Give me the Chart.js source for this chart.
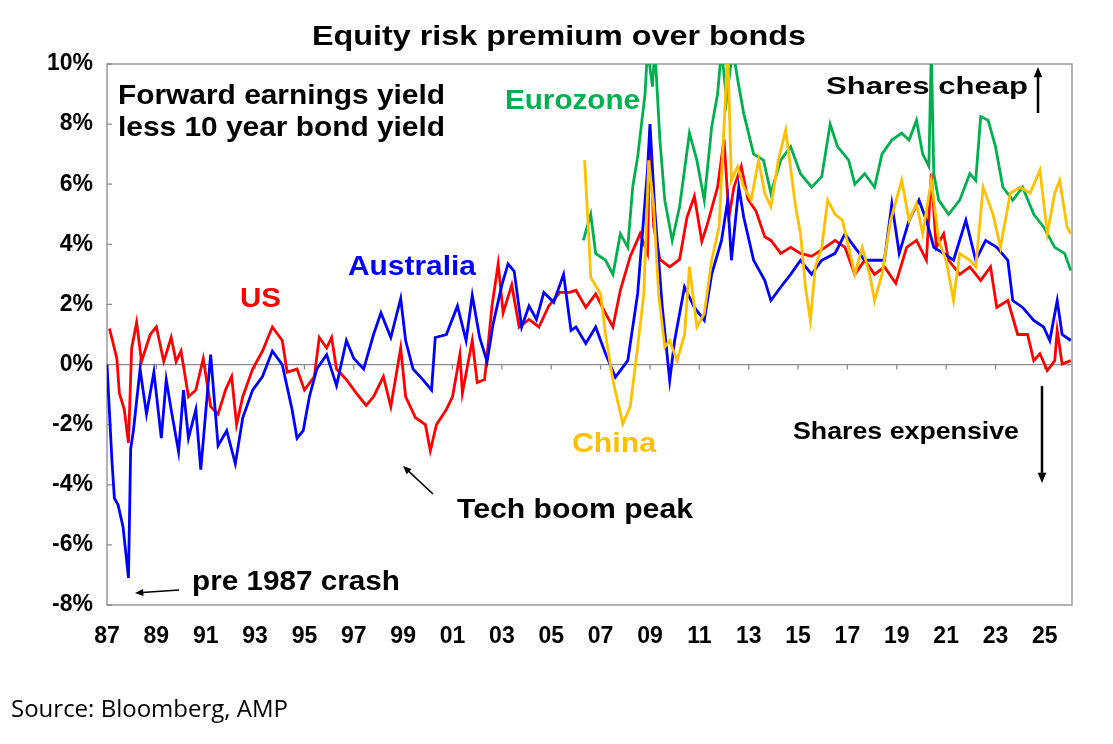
<!DOCTYPE html>
<html>
<head>
<meta charset="utf-8">
<script src="https://cdn.jsdelivr.net/npm/chart.js@4.4.1/dist/chart.umd.min.js"></script>
<style>
  html, body { margin: 0; padding: 0; background: #fff; }
  canvas { display: block; }
</style>
</head>
<body>
<canvas id="erp" width="1113" height="744"></canvas>
<script>
// values, % (forward earnings yield less 10y bond yield)
const usYears = [1987.1,1987.4,1987.5,1987.7,1987.87,1988.0,1988.2,1988.4,1988.75,1989.0,1989.3,1989.6,1989.8,1990.0,1990.3,1990.6,1990.9,1991.2,1991.5,1991.8,1992.05,1992.25,1992.5,1992.9,1993.3,1993.7,1994.1,1994.3,1994.7,1995.0,1995.4,1995.6,1995.9,1996.1,1996.3,1996.7,1997.1,1997.5,1997.8,1998.2,1998.5,1998.9,1999.1,1999.5,1999.9,2000.1,2000.35,2000.75,2001.0,2001.3,2001.4,2001.8,2002.0,2002.3,2002.6,2002.85,2003.05,2003.4,2003.7,2004.1,2004.5,2004.9,2005.35,2005.75,2006.0,2006.4,2006.8,2007.2,2007.5,2007.8,2008.2,2008.6,2008.9,2009.0,2009.15,2009.4,2009.8,2010.2,2010.5,2010.8,2011.1,2011.3,2011.74,2012.0,2012.2,2012.4,2012.7,2012.97,2013.3,2013.65,2013.9,2014.3,2014.7,2015.1,2015.55,2016.1,2016.5,2016.9,2017.3,2017.7,2018.1,2018.5,2018.96,2019.4,2019.8,2020.2,2020.4,2020.6,2020.9,2021.1,2021.55,2021.96,2022.4,2022.8,2023.05,2023.5,2023.9,2024.3,2024.55,2024.8,2025.1,2025.4,2025.5,2025.7,2026.05];
const usValues = [1.2,0.2,-0.95,-1.5,-2.6,0.55,1.4,0.1,1.0,1.25,0.1,0.9,0.1,0.45,-1.07,-0.85,0.2,-1.4,-1.65,-0.85,-0.4,-2.0,-1.07,-0.15,0.45,1.25,0.8,-0.25,-0.15,-0.85,-0.4,0.9,0.55,0.9,-0.15,-0.5,-0.95,-1.36,-1.07,-0.4,-1.4,0.55,-1.07,-1.77,-2.0,-2.87,-2.0,-1.5,-1.07,0.33,-0.95,0.8,-0.6,-0.5,1.95,3.35,1.72,2.65,1.25,1.5,1.25,1.95,2.4,2.4,2.47,1.9,2.35,1.7,1.25,2.47,3.6,4.35,3.7,7.8,4.6,3.5,3.25,3.5,4.9,5.6,4.1,4.6,5.9,7.5,4.9,5.9,6.6,5.5,5.1,4.25,4.13,3.7,3.9,3.7,3.6,3.9,4.13,3.9,3.0,3.47,3.0,3.25,2.7,3.9,4.13,3.47,6.35,3.9,4.35,3.47,3.0,3.25,2.8,3.25,1.9,2.13,1.0,1.0,0.13,0.36,-0.2,0.13,1.13,0.02,0.13];

const auYears = [1987.0,1987.2,1987.3,1987.45,1987.65,1987.87,1987.96,1988.07,1988.34,1988.6,1988.9,1989.2,1989.4,1989.6,1989.9,1990.1,1990.3,1990.6,1990.8,1991.2,1991.5,1991.85,1992.2,1992.5,1992.9,1993.3,1993.7,1994.1,1994.5,1994.7,1994.95,1995.2,1995.5,1995.9,1996.3,1996.7,1997.0,1997.4,1997.8,1998.1,1998.5,1998.9,1999.1,1999.4,1999.8,2000.15,2000.3,2000.75,2001.2,2001.55,2001.8,2002.1,2002.4,2002.65,2003.0,2003.25,2003.5,2003.8,2004.1,2004.4,2004.7,2005.1,2005.5,2005.8,2006.0,2006.4,2006.8,2007.2,2007.6,2008.1,2008.5,2008.9,2009.0,2009.2,2009.5,2009.8,2010.0,2010.4,2010.8,2011.2,2011.5,2011.9,2012.15,2012.3,2012.6,2012.8,2013.2,2013.65,2013.9,2014.3,2014.7,2015.1,2015.55,2015.96,2016.5,2016.9,2017.3,2017.7,2018.1,2018.5,2018.8,2019.1,2019.5,2019.9,2020.2,2020.5,2020.9,2021.3,2021.8,2022.2,2022.6,2023.05,2023.5,2023.7,2024.1,2024.55,2024.95,2025.2,2025.5,2025.7,2026.05];
const auValues = [0,-3.2,-4.45,-4.67,-5.4,-7.1,-2.8,-2.2,-0.15,-1.65,-0.25,-2.45,-0.5,-1.5,-2.9,-0.85,-2.45,-1.5,-3.5,0.33,-2.7,-2.2,-3.3,-1.77,-0.85,-0.4,0.45,0,-1.5,-2.45,-2.2,-1.07,-0.15,0.33,-0.7,0.8,0.2,-0.15,1.0,1.72,0.9,2.2,0.8,-0.15,-0.5,-0.85,0.9,1.0,1.95,0.8,2.3,0.9,0.1,1.37,2.65,3.35,3.1,1.25,1.95,1.5,2.4,2.07,3.0,1.14,1.25,0.7,1.25,0.36,-0.42,0.13,2.35,6.47,8.0,5.1,1.9,-0.53,0.8,2.58,1.9,1.47,3.0,4.13,5.47,3.47,5.9,4.9,3.47,2.8,2.13,2.58,3.0,3.47,3.0,3.47,3.7,4.35,3.9,3.47,3.47,3.47,5.35,3.7,4.8,5.47,4.8,3.9,3.7,3.47,4.8,3.47,4.13,3.9,3.47,2.13,1.9,1.47,1.25,0.8,2.13,1.0,0.8];

const ezYears = [2006.3,2006.6,2006.8,2007.2,2007.5,2007.8,2008.1,2008.3,2008.5,2008.8,2008.9,2009.1,2009.2,2009.4,2009.6,2009.9,2010.2,2010.6,2010.9,2011.2,2011.5,2011.74,2011.9,2012.1,2012.35,2012.55,2012.8,2013.2,2013.6,2013.9,2014.3,2014.7,2015.1,2015.55,2015.96,2016.3,2016.6,2017.05,2017.3,2017.7,2018.1,2018.4,2018.8,2019.2,2019.5,2019.8,2020.05,2020.3,2020.4,2020.5,2020.7,2021.1,2021.55,2021.96,2022.2,2022.4,2022.7,2023.0,2023.3,2023.7,2024.1,2024.55,2024.95,2025.4,2025.8,2026.05];
const ezValues = [4.13,5.0,3.7,3.47,3.0,4.35,3.9,5.9,6.9,9.0,10.5,9.25,10.5,7.5,5.47,4.13,5.25,7.7,6.8,5.47,7.9,9.0,10.5,8.8,10.5,9.5,8.35,7.0,6.8,5.7,6.8,7.25,6.35,5.9,6.25,8.0,7.25,6.8,6.0,6.35,5.9,7.0,7.47,7.7,7.47,8.13,7.0,6.6,10.5,6.35,5.47,5.0,5.47,6.35,6.13,8.25,8.13,7.25,5.9,5.47,5.9,5.0,4.58,3.9,3.7,3.13];

const cnYears = [2006.35,2006.5,2006.6,2007.0,2007.2,2007.5,2007.9,2008.2,2008.5,2008.75,2008.95,2009.15,2009.35,2009.6,2009.8,2010.1,2010.4,2010.6,2010.9,2011.2,2011.5,2011.8,2012.0,2012.15,2012.3,2012.55,2012.8,2013.1,2013.4,2013.65,2013.9,2014.2,2014.5,2014.9,2015.1,2015.3,2015.5,2015.7,2015.96,2016.2,2016.5,2016.8,2017.05,2017.3,2017.6,2017.9,2018.1,2018.4,2018.75,2019.2,2019.5,2019.8,2020.05,2020.4,2020.7,2021.0,2021.3,2021.55,2021.96,2022.2,2022.5,2022.9,2023.2,2023.6,2024.0,2024.4,2024.8,2025.1,2025.4,2025.6,2025.9,2026.05];
const cnValues = [6.8,4.58,2.9,2.35,1.0,-0.53,-1.97,-1.4,0.58,2.35,6.8,5.25,2.35,0.58,0.8,0.13,1.0,3.25,1.25,1.7,3.47,4.58,7.9,10.5,6.13,6.58,5.9,5.47,6.8,5.7,5.25,6.8,7.8,5.25,4.35,2.58,1.47,3.25,3.9,5.47,5.0,4.8,3.9,3.0,3.9,3.0,2.13,3.0,4.8,6.13,4.8,5.35,4.35,6.13,4.13,3.47,2.13,3.7,3.47,3.25,5.9,5.0,3.9,5.7,5.9,5.7,6.47,4.35,5.7,6.13,4.58,4.35];

const xTicks = [1987,1989,1991,1993,1995,1997,1999,2001,2003,2005,2007,2009,2011,2013,2015,2017,2019,2021,2023,2025];
const yTicks = [-8, -6, -4, -2, 0, 2, 4, 6, 8, 10];

const toPoints = (xs, ys) => xs.map((x, i) => ({ x: x, y: ys[i] }));
const FONT = '"Liberation Sans", Arial, sans-serif';

const line = (label, xs, ys, color) => ({
    label: label,
    data: toPoints(xs, ys),
    borderColor: color,
    borderWidth: 2.8,
    pointRadius: 0,
    tension: 0,
    fill: false
});

// frame, zero line, title and labels
const decor = {
    id: 'decor',
    beforeDatasetsDraw(chart) {
        const { ctx, chartArea: a, scales: { x, y } } = chart;
        ctx.save();
        ctx.strokeStyle = '#8c8c8c';
        ctx.lineWidth = 1.3;
        ctx.strokeRect(a.left, a.top, a.right - a.left, a.bottom - a.top);
        const y0 = y.getPixelForValue(0);
        ctx.beginPath();
        ctx.moveTo(a.left, y0); ctx.lineTo(a.right, y0);
        xTicks.forEach(v => {
            const px = x.getPixelForValue(v);
            ctx.moveTo(px, y0); ctx.lineTo(px, y0 + 5);
        });
        yTicks.forEach(v => {
            const py = y.getPixelForValue(v);
            ctx.moveTo(a.left, py); ctx.lineTo(a.left + 5, py);
        });
        ctx.stroke();
        ctx.restore();
    },
    afterDraw(chart) {
        const { ctx } = chart;
        ctx.save();
        // text fitted to the width it has in the reference
        const txt = (s, left, right, py, color, size) => {
            ctx.font = 'bold ' + size + 'px ' + FONT;
            ctx.fillStyle = color;
            ctx.textAlign = 'left';
            ctx.textBaseline = 'middle';
            const w = ctx.measureText(s).width;
            ctx.save();
            ctx.translate(left, py);
            ctx.scale((right - left) / w, 1);
            ctx.fillText(s, 0, 0);
            ctx.restore();
        };
        txt('Equity risk premium over bonds', 312, 806, 37, '#000', 28);
        txt('Forward earnings yield', 118, 445, 97, '#000', 27);
        txt('less 10 year bond yield', 118, 445, 129, '#000', 27);
        txt('Eurozone', 505, 640, 102, '#00b050', 27);
        txt('US', 240, 281, 300, '#ff0000', 27);
        txt('Australia', 348, 476, 268, '#0000ff', 27);
        txt('China', 572, 656, 445, '#ffc000', 27);
        txt('Tech boom peak', 457, 693, 511, '#000', 27);
        txt('pre 1987 crash', 192, 400, 583, '#000', 27);
        txt('Shares cheap', 826, 1028, 87, '#000', 24);
        txt('Shares expensive', 793, 1019, 432, '#000', 24);

        const arrow = (x1, y1, x2, y2, w, head) => {
            const ang = Math.atan2(y2 - y1, x2 - x1);
            ctx.strokeStyle = '#000';
            ctx.fillStyle = '#000';
            ctx.lineWidth = w;
            ctx.beginPath();
            ctx.moveTo(x1, y1);
            ctx.lineTo(x2 - Math.cos(ang) * head * 0.8, y2 - Math.sin(ang) * head * 0.8);
            ctx.stroke();
            ctx.beginPath();
            ctx.moveTo(x2, y2);
            ctx.lineTo(x2 - head * Math.cos(ang - 0.4), y2 - head * Math.sin(ang - 0.4));
            ctx.lineTo(x2 - head * Math.cos(ang + 0.4), y2 - head * Math.sin(ang + 0.4));
            ctx.closePath();
            ctx.fill();
        };
        arrow(1038, 113, 1038, 67, 2.5, 11);
        arrow(1042, 386, 1042, 483, 2.5, 11);
        arrow(433, 494, 403, 466, 1.5, 9);
        arrow(179, 590, 135, 593, 1.5, 9);

        ctx.fillStyle = '#000';
        ctx.font = '24px "Open Sans", sans-serif';
        ctx.textAlign = 'left';
        ctx.textBaseline = 'middle';
        ctx.fillText('Source: Bloomberg, AMP', 11, 710);
        ctx.restore();
    }
};

new Chart(document.getElementById('erp'), {
    type: 'line',
    data: {
        datasets: [
            line('China', cnYears, cnValues, '#ffc000'),
            line('Eurozone', ezYears, ezValues, '#00b050'),
            line('Australia', auYears, auValues, '#0000ff'),
            line('US', usYears, usValues, '#ff0000')
        ]
    },
    options: {
        responsive: false,
        animation: false,
        layout: { padding: { top: 64, right: 41, bottom: 94, left: 0 } },
        plugins: { legend: { display: false }, tooltip: { enabled: false }, title: { display: false } },
        scales: {
            x: {
                type: 'linear',
                min: 1987,
                max: 2026.1,
                grid: { display: false },
                border: { display: false },
                afterBuildTicks: s => { s.ticks = xTicks.map(v => ({ value: v })); },
                afterFit: s => { s.height = 45; },
                ticks: {
                    autoSkip: false,
                    maxRotation: 0,
                    color: '#000',
                    padding: 10,
                    font: { family: FONT, size: 23, weight: 'bold' },
                    callback: v => String(v % 100).padStart(2, '0')
                }
            },
            y: {
                min: -8,
                max: 10,
                grid: { display: false },
                border: { display: false },
                afterFit: s => { s.width = 107; },
                afterBuildTicks: s => { s.ticks = yTicks.map(v => ({ value: v })); },
                ticks: {
                    color: '#000',
                    padding: 6,
                    font: { family: FONT, size: 23, weight: 'bold' },
                    callback: v => v + '%'
                }
            }
        }
    },
    plugins: [decor]
});
</script>
</body>
</html>
